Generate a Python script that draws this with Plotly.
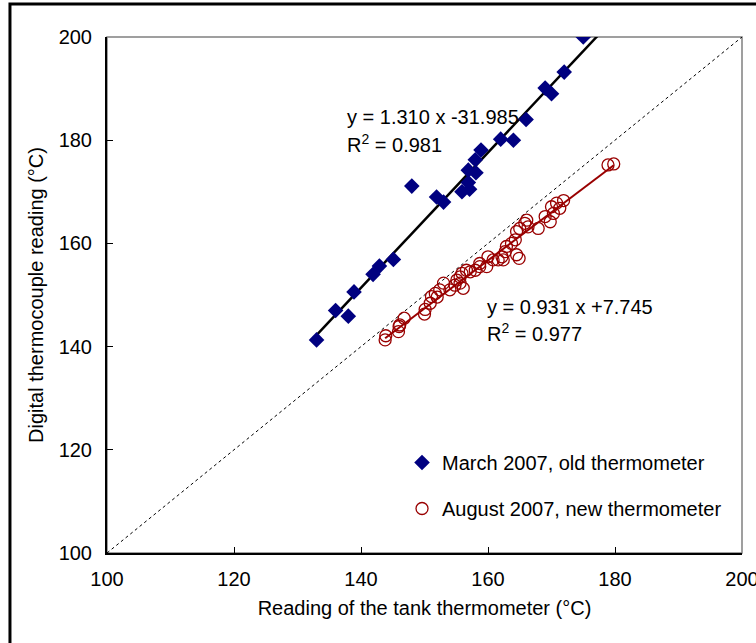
import plotly.graph_objects as go

# March 2007, old thermometer (blue diamonds)
march_x = [175.0, 172.0, 169.0, 170.0, 166.0, 164.0, 162.0, 158.9, 158.0, 156.9,
           158.1, 156.9, 155.9, 157.1, 148.0, 151.9, 153.0, 145.1, 142.9, 141.9,
           138.9, 136.0, 138.0, 133.0]
march_y = [200.0, 193.2, 190.1, 189.0, 184.0, 180.0, 180.2, 178.1, 176.2, 174.2,
           173.7, 171.8, 170.0, 170.5, 171.1, 169.0, 168.0, 156.9, 155.6, 154.0,
           150.6, 147.0, 145.9, 141.3]

# August 2007, new thermometer (open red circles)
aug_x = [143.8, 143.9, 145.9, 146.0, 146.8, 146.1, 150.0, 150.1, 150.9, 151.1,
         151.7, 152.4, 152.0, 153.0, 154.0, 154.8, 155.6, 155.9, 156.1, 155.6,
         155.1, 156.6, 157.2, 158.0, 158.7, 159.8, 160.0, 160.8, 161.6, 162.2,
         162.7, 162.4, 162.9, 163.7, 164.3, 164.5, 164.9, 164.5, 165.0, 165.8,
         166.1, 166.3, 167.9, 169.0, 169.8, 170.0, 170.8, 170.3, 171.3, 171.9,
         178.9, 179.8, 158.7]
aug_y = [141.3, 142.1, 142.9, 143.9, 145.5, 144.2, 146.3, 147.2, 148.4, 149.7,
         150.3, 151.0, 149.6, 152.3, 151.0, 151.9, 153.5, 154.2, 151.3, 152.3,
         152.9, 154.8, 154.5, 154.8, 155.5, 155.5, 157.4, 156.8, 156.8, 157.4,
         158.4, 156.8, 159.4, 160.0, 160.7, 157.8, 157.1, 162.3, 162.9, 163.9,
         164.5, 163.2, 162.9, 165.2, 164.2, 167.1, 167.8, 165.8, 166.8, 168.3,
         175.2, 175.4, 156.1]

# Regression coefficients (slope, intercept) and trendline x-extent
march_fit = (1.310, -31.985)
march_fit_x = [133.0, 177.6]
aug_fit = (0.931, 7.745)
aug_fit_x = [min(aug_x), max(aug_x)]
identity_x = [100, 200]

axis_ticks = [100, 120, 140, 160, 180, 200]

FONT = "Liberation Sans, Arial, sans-serif"
FS = 20
BLUE = "#000080"
RED = "#990000"

fig = go.Figure()

# 1:1 dashed line
fig.add_trace(go.Scatter(x=identity_x, y=identity_x, mode="lines",
                         line=dict(color="black", width=1, dash="3px,3px"),
                         showlegend=False, hoverinfo="skip"))

# fit lines
fig.add_trace(go.Scatter(x=march_fit_x,
                         y=[march_fit[0] * v + march_fit[1] for v in march_fit_x],
                         mode="lines", line=dict(color="black", width=2.5),
                         showlegend=False, hoverinfo="skip"))
fig.add_trace(go.Scatter(x=aug_fit_x,
                         y=[aug_fit[0] * v + aug_fit[1] for v in aug_fit_x],
                         mode="lines", line=dict(color=RED, width=2),
                         showlegend=False, hoverinfo="skip"))

fig.add_trace(go.Scatter(x=march_x, y=march_y, mode="markers",
                         name="March 2007, old thermometer",
                         legendgroup="a",
                         marker=dict(symbol="diamond", size=12, color=BLUE,
                                     line=dict(width=0))))
fig.add_trace(go.Scatter(x=aug_x, y=aug_y, mode="markers",
                         name="August 2007, new thermometer",
                         legendgroup="b",
                         marker=dict(symbol="circle-open", size=12, color=RED,
                                     line=dict(width=1.3, color=RED))))

# plot area border (gray), drawn below axis lines
fig.add_shape(type="rect", xref="paper", yref="paper", x0=0, y0=0, x1=1, y1=1,
              line=dict(color="#808080", width=1.5), layer="below")
# outer chart frame
fig.add_shape(type="rect", xref="paper", yref="paper",
              x0=-0.1528, y0=-0.19, x1=1.04, y1=1.0640,
              line=dict(color="black", width=3))

ann_font = dict(size=FS, family=FONT, color="black")
fig.add_annotation(x=0.3748, y=0.8455, xref="paper", yref="paper",
                   xanchor="left", yanchor="middle", showarrow=False,
                   text="y = 1.310 x -31.985", font=ann_font)
fig.add_annotation(x=0.3748, y=0.7935, xref="paper", yref="paper",
                   xanchor="left", yanchor="middle", showarrow=False,
                   text="R<sup>2</sup> = 0.981", font=ann_font)
fig.add_annotation(x=0.5953, y=0.4767, xref="paper", yref="paper",
                   xanchor="left", yanchor="middle", showarrow=False,
                   text="y = 0.931 x +7.745", font=ann_font)
fig.add_annotation(x=0.5953, y=0.4264, xref="paper", yref="paper",
                   xanchor="left", yanchor="middle", showarrow=False,
                   text="R<sup>2</sup> = 0.977", font=ann_font)

axis_common = dict(
    range=[100, 200], tickvals=axis_ticks, ticktext=[str(t) for t in axis_ticks],
    showgrid=False, zeroline=False, showline=True, linecolor="black", linewidth=2,
    ticks="inside", ticklen=6, tickcolor="black", tickwidth=1,
    tickfont=dict(size=FS, family=FONT, color="black"),
    ticklabeloverflow="allow", automargin=False,
)

fig.update_layout(
    width=756, height=643,
    margin=dict(l=107, r=14, t=37, b=90, autoexpand=False),
    paper_bgcolor="white", plot_bgcolor="white",
    font=dict(family=FONT, size=FS, color="black"),
    xaxis=dict(title=dict(text="Reading of the tank thermometer (°C)",
                          font=dict(size=FS, family=FONT), standoff=12),
               ticklabelstandoff=7, **axis_common),
    yaxis=dict(title=dict(text="Digital thermocouple reading (°C)",
                          font=dict(size=FS, family=FONT), standoff=10),
               ticklabelstandoff=9, **axis_common),
    legend=dict(x=0.4646, y=0.2132, xanchor="left", yanchor="top",
                bgcolor="rgba(0,0,0,0)", borderwidth=0,
                tracegroupgap=17, traceorder="grouped",
                font=dict(size=FS, family=FONT, color="black")),
    showlegend=True,
)

fig.write_html("out.html")
